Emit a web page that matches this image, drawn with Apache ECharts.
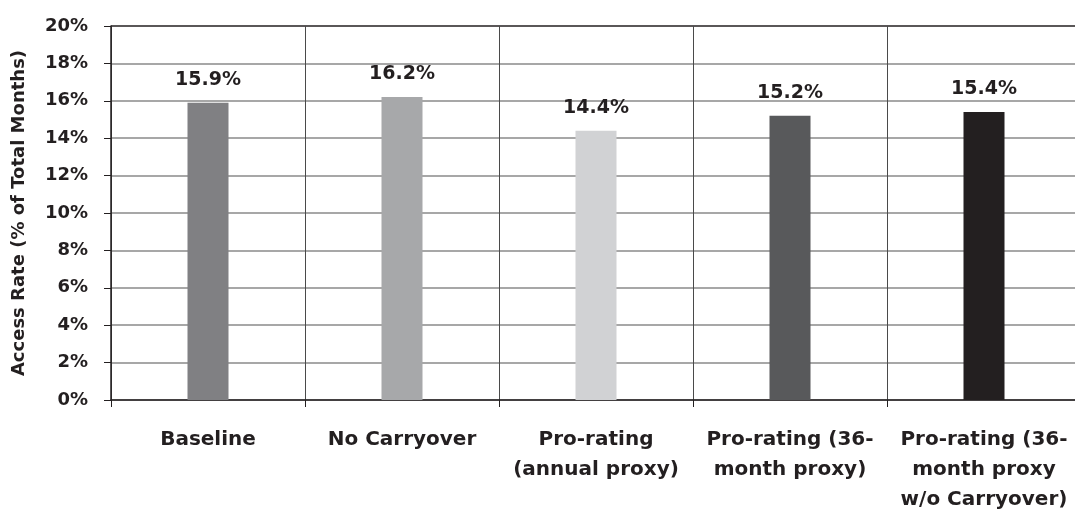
<!DOCTYPE html>
<html>
<head>
<meta charset="utf-8">
<script src="https://cdn.jsdelivr.net/npm/echarts@6/dist/echarts.min.js"></script>
<style>
  html, body { margin: 0; padding: 0; background: #fff; }
  #main { width: 1075px; height: 516px; }
</style>
</head>
<body>
<div id="main"></div>
<script>
"use strict";
// data
let categories = ['Baseline', 'No Carryover', 'Pro-rating\n(annual proxy)', 'Pro-rating (36-\nmonth proxy)', 'Pro-rating (36-\nmonth proxy\nw/o Carryover)'];
let accessRate = [15.9, 16.2, 14.4, 15.2, 15.4];
let barColors = ['#808083', '#a7a8aa', '#d1d2d4', '#58595b', '#231f20'];
let yTicks = [0, 2, 4, 6, 8, 10, 12, 14, 16, 18, 20];

let textColor = '#231f20';
let font = 'DejaVu Sans';
let myChart = echarts.init(document.getElementById('main'));

// grid line colours: gray, the top one dark like a frame
let gridColors = yTicks.map(function (t, i) {
    return i === yTicks.length - 1 ? '#231f20' : '#8a8a8a';
});

let option = {
    animation: false,
    grid: {
        left: 111,
        right: -6,
        top: 26,
        bottom: 116,
        outerBoundsMode: 'none'
    },
    xAxis: {
        type: 'category',
        data: categories,
        axisLine: { lineStyle: { color: '#231f20', width: 1.5 } },
        axisTick: { show: true, length: 7, lineStyle: { color: '#231f20', width: 1 } },
        splitLine: { show: true, interval: 0, lineStyle: { color: '#4a4a4a', width: 1 } },
        axisLabel: {
            interval: 0,
            margin: 25,
            color: textColor,
            fontFamily: font,
            fontWeight: 'bold',
            fontSize: 20,
            lineHeight: 30
        }
    },
    yAxis: {
        type: 'value',
        min: yTicks[0],
        max: yTicks[yTicks.length - 1],
        interval: 2,
        name: 'Access Rate (% of Total Months)',
        nameLocation: 'middle',
        nameGap: 83,
        nameTextStyle: {
            color: textColor,
            fontFamily: font,
            fontWeight: 'bold',
            fontSize: 18
        },
        axisLine: { show: true, lineStyle: { color: '#231f20', width: 1.5 } },
        axisTick: { show: true, length: 7, lineStyle: { color: '#231f20', width: 1 } },
        splitLine: { show: true, lineStyle: { color: gridColors, width: 1.5 } },
        axisLabel: {
            margin: 23,
            color: textColor,
            fontFamily: font,
            fontWeight: 'bold',
            fontSize: 18,
            formatter: '{value}%'
        }
    },
    series: [{
        type: 'bar',
        barWidth: 41,
        data: accessRate.map(function (v, i) {
            return { value: v, itemStyle: { color: barColors[i] } };
        }),
        label: {
            show: true,
            position: 'top',
            distance: 13,
            color: textColor,
            fontFamily: font,
            fontWeight: 'bold',
            fontSize: 19,
            formatter: function (p) { return p.value.toFixed(1) + '%'; }
        }
    }]
};
myChart.setOption(option);
</script>
</body>
</html>
